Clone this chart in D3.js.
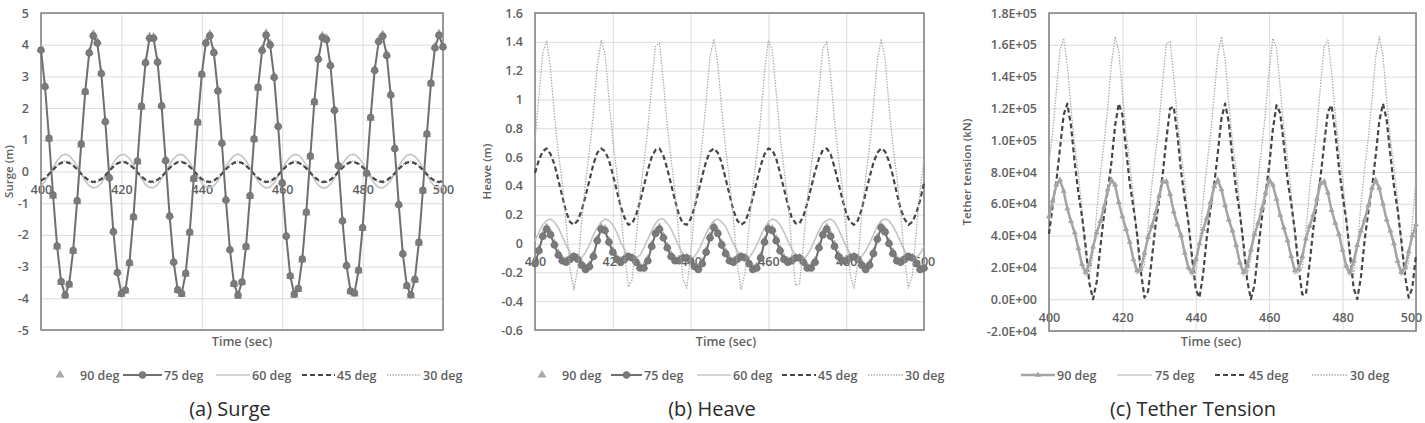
<!DOCTYPE html>
<html><head><meta charset="utf-8">
<script src="https://cdn.jsdelivr.net/npm/d3@7"></script>
<style>
body{margin:0;background:#fff;}
svg{display:block;font-family:"Open Sans",sans-serif;}
</style></head><body>
<svg id="c" width="1425" height="423"></svg>
<script>
// ---------------- DATA ----------------
const time = [400,401,402,403,404,405,406,407,408,409,410,411,412,413,414,415,416,417,418,419,420,421,422,423,424,425,426,427,428,429,430,431,432,433,434,435,436,437,438,439,440,441,442,443,444,445,446,447,448,449,450,451,452,453,454,455,456,457,458,459,460,461,462,463,464,465,466,467,468,469,470,471,472,473,474,475,476,477,478,479,480,481,482,483,484,485,486,487,488,489,490,491,492,493,494,495,496,497,498,499,500];
const xTicks = [400,420,440,460,480,500];
const surgeTicks = [-5,-4,-3,-2,-1,0,1,2,3,4,5];
const heaveTicks = [-0.6,-0.4,-0.2,0,0.2,0.4,0.6,0.8,1,1.2,1.4,1.6];
const tensionTicks = [-20000,0,20000,40000,60000,80000,100000,120000,140000,160000,180000];
const seriesNames = ["90 deg","75 deg","60 deg","45 deg","30 deg"];

const surge90 = [3.86,2.7,1.02,-0.78,-2.38,-3.5,-3.92,-3.58,-2.52,-0.95,
0.84,2.5,3.77,4.33,4.1,3.12,1.6,-0.17,-1.87,-3.16,
-3.87,-3.77,-2.9,-1.46,0.3,2.03,3.46,4.26,4.25,3.48,
2.1,0.37,-1.38,-2.83,-3.75,-3.88,-3.24,-1.94,-0.25,1.53,
3.05,4.1,4.33,3.79,2.57,0.92,-0.87,-2.44,-3.56,-3.93,
-3.51,-2.39,-0.79,1.0,2.63,3.86,4.36,4.04,3.0,1.45,
-0.33,-2.01,-3.31,-3.9,-3.72,-2.79,-1.31,0.46,2.17,3.58,
4.28,4.21,3.37,1.96,0.21,-1.53,-2.94,-3.79,-3.86,-3.14,
-1.8,-0.08,1.68,3.22,4.15,4.32,3.7,2.44,0.75,-1.02,
-2.57,-3.62,-3.92,-3.43,-2.26,-0.62,1.16,2.76,3.94,4.35,
3.97];
const surge75 = [3.83,2.68,1.05,-0.74,-2.35,-3.47,-3.9,-3.55,-2.49,-0.92,
0.87,2.52,3.74,4.28,4.05,3.09,1.57,-0.2,-1.9,-3.19,
-3.85,-3.74,-2.88,-1.43,0.33,2.06,3.43,4.2,4.2,3.45,
2.07,0.34,-1.41,-2.86,-3.73,-3.85,-3.21,-1.91,-0.22,1.56,
3.07,4.05,4.28,3.75,2.54,0.89,-0.9,-2.47,-3.54,-3.9,
-3.48,-2.36,-0.76,1.03,2.66,3.82,4.3,3.99,2.97,1.42,
-0.36,-2.04,-3.29,-3.87,-3.69,-2.76,-1.28,0.49,2.2,3.54,
4.23,4.16,3.34,1.93,0.18,-1.56,-2.97,-3.77,-3.83,-3.11,
-1.77,-0.05,1.71,3.19,4.1,4.27,3.66,2.41,0.72,-1.05,
-2.6,-3.6,-3.89,-3.4,-2.23,-0.59,1.19,2.79,3.9,4.3,
3.93];
const surge60 = [-0.46,-0.31,-0.10,0.13,0.34,0.49,0.55,0.50,0.36,0.16,
-0.08,-0.29,-0.45,-0.52,-0.49,-0.37,-0.17,0.06,0.28,0.45,
0.54,0.52,0.41,0.22,-0.01,-0.23,-0.41,-0.51,-0.51,-0.41,
-0.23,-0.01,0.22,0.41,0.52,0.54,0.45,0.29,0.06,-0.17,
-0.36,-0.49,-0.52,-0.45,-0.30,-0.08,0.15,0.36,0.50,0.55,
0.49,0.34,0.13,-0.10,-0.31,-0.46,-0.52,-0.49,-0.35,-0.15,
0.08,0.30,0.46,0.54,0.52,0.40,0.20,-0.03,-0.25,-0.43,
-0.52,-0.51,-0.40,-0.22,0.01,0.24,0.42,0.53,0.54,0.44,
0.27,0.04,-0.19,-0.38,-0.50,-0.52,-0.44,-0.28,-0.06,0.17,
0.37,0.51,0.54,0.48,0.33,0.11,-0.12,-0.33,-0.47,-0.53,
-0.48];
const surge45 = [-0.29,-0.21,-0.08,0.06,0.18,0.27,0.30,0.27,0.19,0.07,
-0.07,-0.19,-0.29,-0.33,-0.31,-0.24,-0.12,0.02,0.15,0.25,
0.30,0.29,0.22,0.11,-0.03,-0.16,-0.26,-0.32,-0.32,-0.26,
-0.16,-0.03,0.11,0.22,0.29,0.30,0.25,0.15,0.02,-0.12,
-0.24,-0.31,-0.33,-0.29,-0.19,-0.07,0.07,0.19,0.27,0.30,
0.27,0.18,0.06,-0.08,-0.20,-0.29,-0.33,-0.31,-0.23,-0.11,
0.03,0.16,0.25,0.30,0.28,0.21,0.10,-0.04,-0.17,-0.27,
-0.33,-0.32,-0.26,-0.15,-0.01,0.12,0.23,0.29,0.29,0.24,
0.14,0.00,-0.13,-0.24,-0.31,-0.33,-0.28,-0.18,-0.06,0.08,
0.20,0.28,0.30,0.26,0.17,0.05,-0.09,-0.21,-0.30,-0.33,
-0.30];
const surge30 = [-0.32,-0.23,-0.09,0.06,0.2,0.3,0.33,0.3,0.21,0.08,
-0.08,-0.21,-0.32,-0.36,-0.34,-0.26,-0.13,0.02,0.17,0.28,
0.33,0.32,0.24,0.12,-0.03,-0.18,-0.29,-0.35,-0.35,-0.29,
-0.18,-0.03,0.12,0.24,0.32,0.33,0.28,0.17,0.02,-0.13,
-0.26,-0.34,-0.36,-0.32,-0.21,-0.08,0.08,0.21,0.3,0.33,
0.3,0.2,0.07,-0.09,-0.22,-0.32,-0.36,-0.34,-0.25,-0.12,
0.03,0.18,0.28,0.33,0.31,0.23,0.11,-0.04,-0.19,-0.3,
-0.36,-0.35,-0.29,-0.17,-0.01,0.13,0.25,0.32,0.32,0.26,
0.15,0.0,-0.14,-0.26,-0.34,-0.36,-0.31,-0.2,-0.07,0.09,
0.22,0.31,0.33,0.29,0.19,0.06,-0.1,-0.23,-0.33,-0.36,
-0.33];

const heave90 = [-0.13,-0.04,0.06,0.11,0.07,0.0,-0.07,-0.11,-0.12,-0.1,
-0.09,-0.1,-0.14,-0.17,-0.15,-0.08,0.03,0.11,0.1,0.02,
-0.05,-0.1,-0.12,-0.1,-0.09,-0.1,-0.12,-0.16,-0.16,-0.11,
-0.01,0.08,0.11,0.05,-0.02,-0.08,-0.11,-0.11,-0.1,-0.1,
-0.11,-0.15,-0.17,-0.13,-0.05,0.05,0.12,0.08,0.0,-0.06,
-0.11,-0.12,-0.1,-0.09,-0.1,-0.13,-0.17,-0.16,-0.09,0.02,
0.11,0.1,0.03,-0.04,-0.1,-0.12,-0.11,-0.1,-0.1,-0.12,
-0.16,-0.16,-0.12,-0.02,0.07,0.11,0.06,-0.01,-0.08,-0.11,
-0.11,-0.1,-0.09,-0.1,-0.14,-0.17,-0.14,-0.06,0.04,0.12,
0.09,0.01,-0.06,-0.11,-0.12,-0.1,-0.09,-0.1,-0.13,-0.17,
-0.16];
const heave75 = [-0.14,-0.05,0.05,0.10,0.06,-0.01,-0.08,-0.12,-0.13,-0.11,
-0.09,-0.11,-0.15,-0.18,-0.16,-0.09,0.02,0.10,0.09,0.01,
-0.06,-0.11,-0.13,-0.11,-0.09,-0.10,-0.13,-0.17,-0.17,-0.12,
-0.02,0.07,0.10,0.04,-0.03,-0.09,-0.12,-0.12,-0.10,-0.10,
-0.12,-0.16,-0.18,-0.14,-0.06,0.04,0.11,0.07,-0.01,-0.07,
-0.12,-0.13,-0.11,-0.09,-0.10,-0.14,-0.18,-0.17,-0.10,0.01,
0.10,0.09,0.02,-0.05,-0.11,-0.13,-0.12,-0.10,-0.10,-0.13,
-0.17,-0.17,-0.13,-0.03,0.06,0.10,0.05,-0.02,-0.09,-0.12,
-0.12,-0.10,-0.09,-0.11,-0.15,-0.18,-0.15,-0.07,0.03,0.11,
0.08,0.00,-0.07,-0.12,-0.13,-0.11,-0.09,-0.10,-0.14,-0.18,
-0.17];
const heave60 = [0.02,0.08,0.13,0.16,0.17,0.15,0.11,0.05,-0.01,-0.06,
-0.10,-0.11,-0.10,-0.06,-0.01,0.06,0.11,0.15,0.17,0.16,
0.13,0.08,0.01,-0.04,-0.09,-0.11,-0.10,-0.08,-0.03,0.03,
0.09,0.14,0.17,0.17,0.14,0.10,0.04,-0.02,-0.07,-0.10,
-0.11,-0.09,-0.05,0.01,0.07,0.12,0.16,0.17,0.15,0.12,
0.06,0.00,-0.05,-0.09,-0.11,-0.10,-0.06,-0.01,0.05,0.11,
0.15,0.17,0.16,0.13,0.08,0.02,-0.04,-0.08,-0.11,-0.11,
-0.08,-0.03,0.03,0.09,0.14,0.16,0.17,0.15,0.10,0.04,
-0.02,-0.07,-0.10,-0.11,-0.09,-0.05,0.00,0.06,0.12,0.16,
0.17,0.16,0.12,0.07,0.01,-0.05,-0.09,-0.11,-0.10,-0.07,
-0.02];
const heave45 = [0.49,0.58,0.64,0.66,0.62,0.55,0.44,0.33,0.22,0.15,
0.13,0.16,0.23,0.33,0.44,0.55,0.63,0.66,0.64,0.58,
0.48,0.37,0.26,0.18,0.13,0.14,0.20,0.29,0.40,0.51,
0.60,0.65,0.66,0.61,0.52,0.41,0.30,0.20,0.14,0.13,
0.17,0.25,0.36,0.47,0.57,0.64,0.66,0.63,0.56,0.45,
0.34,0.23,0.16,0.13,0.15,0.22,0.32,0.43,0.54,0.62,
0.66,0.65,0.59,0.49,0.38,0.27,0.18,0.14,0.14,0.19,
0.28,0.39,0.50,0.59,0.65,0.66,0.62,0.53,0.42,0.31,
0.21,0.15,0.13,0.16,0.24,0.35,0.46,0.56,0.63,0.66,
0.64,0.57,0.47,0.35,0.24,0.17,0.13,0.15,0.21,0.30,
0.42];
const heave30 = [0.72,1.02,1.32,1.41,1.21,0.89,0.63,0.42,0.14,-0.18,
-0.32,-0.17,0.15,0.43,0.64,0.90,1.23,1.41,1.32,1.01,
0.72,0.50,0.25,-0.07,-0.30,-0.25,0.03,0.34,0.56,0.79,
1.11,1.37,1.39,1.13,0.82,0.58,0.36,0.05,-0.24,-0.31,
-0.09,0.23,0.48,0.70,0.99,1.30,1.42,1.25,0.93,0.66,
0.44,0.17,-0.15,-0.32,-0.20,0.11,0.40,0.61,0.87,1.19,
1.41,1.34,1.05,0.74,0.52,0.29,-0.03,-0.29,-0.28,-0.01,
0.31,0.54,0.76,1.07,1.35,1.40,1.17,0.85,0.60,0.38,
0.09,-0.21,-0.31,-0.13,0.20,0.46,0.67,0.95,1.27,1.42,
1.28,0.96,0.68,0.47,0.21,-0.11,-0.31,-0.22,0.08,0.37,
0.59];

// tether tension, in thousands of kN
const tension90k = [52,62,72,75,68,57,49,42,32,22,
17,22,33,42,49,58,69,75,72,61,
52,44,36,25,18,19,29,39,46,54,
65,74,74,66,55,47,40,29,20,17,
25,35,44,51,61,71,75,69,59,50,
43,34,23,17,21,31,41,48,57,67,
75,72,63,53,45,37,27,18,19,27,
38,46,53,63,73,74,67,56,48,41,
31,21,17,24,34,43,50,59,70,75,
70,60,50,43,35,24,17,20,30,40,
47];
const tension75k = [51,61,71,74,67,56,48,41,31,20,
15,21,32,41,48,57,68,74,71,60,
51,43,35,24,16,18,28,38,45,53,
64,73,73,65,54,46,39,28,18,15,
23,34,43,50,60,70,74,68,58,49,
42,33,22,15,19,30,40,47,56,66,
74,71,62,52,44,36,26,16,17,26,
37,45,52,62,72,73,66,55,47,40,
30,19,15,22,33,42,49,58,69,74,
69,59,49,42,34,22,15,18,29,39,
46];
const tension45k = [41,59,74,95,116,123,109,86,67,52,
33,10,0,11,33,53,68,86,109,123,
116,94,73,58,41,18,1,5,25,46,
62,79,101,120,121,103,80,63,48,26,
6,1,16,39,57,72,92,114,123,111,
88,69,54,35,12,0,9,31,51,66,
84,107,122,117,97,75,60,43,20,3,
3,22,44,61,77,98,118,122,105,83,
65,50,29,7,0,14,37,55,70,90,
112,123,113,91,71,56,37,15,1,7,
28];
const tension30k = [86,105,131,157,164,147,120,97,79,55,
27,15,28,55,79,98,120,148,165,156,
130,104,86,65,37,17,21,45,72,91,
111,138,161,162,140,113,92,73,47,22,
16,35,62,84,103,128,154,165,150,123,
99,81,58,30,15,26,52,77,96,118,
145,164,158,133,107,88,67,40,18,19,
42,69,89,108,135,159,163,143,116,94,
76,50,24,16,32,60,82,101,125,152,
165,153,126,101,83,61,33,16,23,49,
75];
const kN = v => v * 1000;

// ---------------- STYLES ----------------
const ST = {
  tri:   {stroke:null, marker:'triangle', mFill:'#a9a9a9', mSize:34},
  circ:  {stroke:'#6f6f6f', width:2, marker:'circle', mFill:'#7b7b7b', r:3.4},
  solid: {stroke:'#c4c4c4', width:1.6},
  dash:  {stroke:'#464646', width:2.2, dash:'5,3'},
  dot:   {stroke:'#a8a8a8', width:1.3, dash:'1.4,1.4'},
  triL:  {stroke:'#a4a4a4', width:2.4, marker:'triangle', mFill:'#a4a4a4', mSize:16},
  solidT:{stroke:'#cacaca', width:1.7}
};

const fmtE = d => { const [m,e] = d.toExponential(1).split('e'); const s = e[0]==='-'?'-':'+'; const n = e.replace(/[+-]/,''); return m + 'E' + s + (n.length<2?'0'+n:n); };

const panels = [
  {left:41, right:443, top:13, bottom:330, ydom:[-5,5], yticks:surgeTicks, fmt:d=>String(d), lastShift:0,
   ylabel:'Surge (m)', ylabelX:8, timeX:242, caption:'(a) Surge', capX:230,
   series:[[surge60,ST.solid],[surge30,ST.dot],[surge45,ST.dash],[surge90,ST.tri],[surge75,ST.circ]],
   legend:[{st:ST.tri,x1:60,x2:60,tx:80,name:seriesNames[0]},{st:ST.circ,x1:123,x2:162,tx:164,name:seriesNames[1]},
           {st:ST.solid,x1:216,x2:250,tx:252,name:seriesNames[2]},{st:ST.dash,x1:302,x2:335,tx:337,name:seriesNames[3]},
           {st:ST.dot,x1:387,x2:421,tx:423,name:seriesNames[4]}]},
  {left:535, right:924, top:13, bottom:330, ydom:[-0.6,1.6], yticks:heaveTicks, fmt:d=>String(+d.toFixed(1)), lastShift:0,
   ylabel:'Heave (m)', ylabelX:486, timeX:726, caption:'(b) Heave', capX:712,
   series:[[heave60,ST.solid],[heave90,ST.tri],[heave75,ST.circ],[heave45,ST.dash],[heave30,ST.dot]],
   legend:[{st:ST.tri,x1:542,x2:542,tx:562,name:seriesNames[0]},{st:ST.circ,x1:611,x2:642,tx:644,name:seriesNames[1]},
           {st:ST.solid,x1:697,x2:731,tx:733,name:seriesNames[2]},{st:ST.dash,x1:782,x2:816,tx:818,name:seriesNames[3]},
           {st:ST.dot,x1:868,x2:903,tx:905,name:seriesNames[4]}]},
  {left:1049, right:1416, top:13, bottom:331, ydom:[-20000,180000], yticks:tensionTicks, fmt:fmtE, lastShift:-5,
   ylabel:'Tether tension (kN)', ylabelX:966, timeX:1211, caption:'(c) Tether Tension', capX:1193,
   series:[[tension30k.map(kN),ST.dot],[tension45k.map(kN),ST.dash],[tension75k.map(kN),ST.solidT],[tension90k.map(kN),ST.triL]],
   legend:[{st:ST.triL,x1:1021,x2:1055,tx:1057,name:seriesNames[0]},{st:ST.solidT,x1:1117,x2:1152,tx:1155,name:seriesNames[1]},
           {st:ST.dash,x1:1215,x2:1247,tx:1249,name:seriesNames[3]},{st:ST.dot,x1:1312,x2:1348,tx:1350,name:seriesNames[4]}]}
];

const svg = d3.select('#c');
const TXT = '#5f5f5f';
const FS = 12.5;

function drawMarkers(g, pts, st){
  if (st.marker==='circle'){
    g.selectAll(null).data(pts).join('circle').attr('cx',d=>d[0]).attr('cy',d=>d[1]).attr('r',st.r)
      .attr('fill',st.mFill).attr('stroke','#6a6a6a').attr('stroke-width',0.6);
  } else if (st.marker==='triangle'){
    const sym = d3.symbol(d3.symbolTriangle, st.mSize)();
    g.selectAll(null).data(pts).join('path').attr('d',sym).attr('transform',d=>`translate(${d[0]},${d[1]})`)
      .attr('fill',st.mFill);
  }
}
function drawLine(g, pts, st){
  if (!st.stroke) return;
  g.append('path').datum(pts).attr('d', d3.line()).attr('fill','none').attr('stroke',st.stroke)
    .attr('stroke-width',st.width).attr('stroke-dasharray',st.dash||null).attr('stroke-linejoin','round');
}

panels.forEach(p => {
  const x = d3.scaleLinear().domain([400,500]).range([p.left,p.right]);
  const y = d3.scaleLinear().domain(p.ydom).range([p.bottom,p.top]);
  const g = svg.append('g');

  const ya = g.append('g').attr('transform',`translate(${p.left},0)`)
    .call(d3.axisLeft(y).tickValues(p.yticks).tickFormat(p.fmt).tickSize(-(p.right-p.left)).tickPadding(12));
  ya.select('.domain').remove();
  ya.selectAll('line').attr('stroke','#dcdcdc');
  ya.selectAll('text').attr('fill',TXT).attr('font-size',FS).attr('font-weight',600).attr('font-family','"Open Sans",sans-serif');

  const xg = g.append('g').attr('transform',`translate(0,${p.bottom})`)
    .call(d3.axisBottom(x).tickValues(xTicks).tickSize(-(p.bottom-p.top)).tickFormat(''));
  xg.select('.domain').remove();
  xg.selectAll('line').attr('stroke','#dcdcdc');

  const xa = g.append('g').attr('transform',`translate(0,${y(0)})`)
    .call(d3.axisBottom(x).tickValues(xTicks).tickSize(0).tickPadding(14));
  xa.select('.domain').remove();
  xa.selectAll('text').attr('fill',TXT).attr('font-size',FS).attr('font-weight',600).attr('font-family','"Open Sans",sans-serif')
    .attr('dx',(d,i,n)=> i===n.length-1 ? p.lastShift : 0);

  g.append('rect').attr('x',p.left).attr('y',p.top).attr('width',p.right-p.left).attr('height',p.bottom-p.top)
    .attr('fill','none').attr('stroke','#858585').attr('stroke-width',1.6);

  p.series.forEach(([vals, st]) => {
    const pts = vals.map((v,i) => [x(time[i]), y(v)]);
    const sg = g.append('g');
    drawLine(sg, pts, st);
    drawMarkers(sg, pts, st);
  });

  g.append('text').attr('transform',`translate(${p.ylabelX},${(p.top+p.bottom)/2}) rotate(-90)`)
    .attr('text-anchor','middle').attr('dominant-baseline','central').attr('fill',TXT).attr('font-size',11.5).attr('font-weight',600)
    .text(p.ylabel);
  g.append('text').attr('x',p.timeX).attr('y',346).attr('text-anchor','middle').attr('fill',TXT)
    .attr('font-size',12.5).attr('font-weight',600).text('Time (sec)');

  const ly = 375;
  p.legend.forEach(it => {
    const lg = g.append('g');
    if (it.st.stroke) drawLine(lg, [[it.x1,ly],[it.x2,ly]], it.st);
    if (it.st.marker) drawMarkers(lg, [[(it.x1+it.x2)/2, ly]], it.st);
    lg.append('text').attr('x',it.tx).attr('y',ly+4.5).attr('fill',TXT).attr('font-size',FS).attr('font-weight',600).text(it.name);
  });

  g.append('text').attr('x',p.capX).attr('y',416).attr('text-anchor','middle').attr('fill','#2a2a2a')
    .attr('font-size',20).text(p.caption);
});
</script>
</body></html>
